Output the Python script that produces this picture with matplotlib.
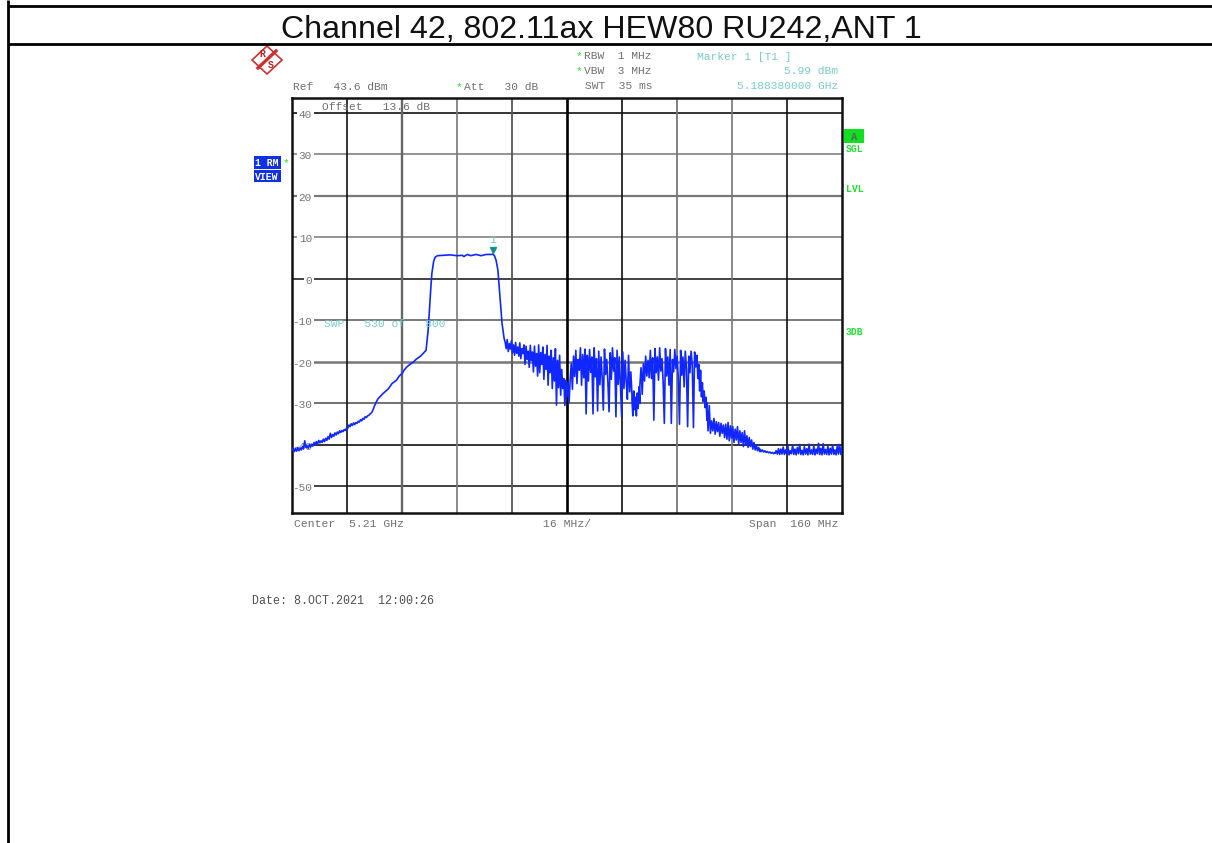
import numpy as np
import matplotlib
matplotlib.use("Agg")
import matplotlib.pyplot as plt
from matplotlib.patches import Polygon, Rectangle

W, H = 1212, 843

# ---------------------------------------------------------
# Trace (MHz, dBm)
# ---------------------------------------------------------
left_range = (5130.0, 5155.0)
left_levels = [
    -41.3, -40.7, -41.6, -40.9, -41.5, -40.6, -41.4, -40.8, -41.2, -40.4, -40.9, -39.0, -40.6, -40.2,
    -40.8, -39.9, -40.5, -39.8, -40.3, -39.4, -40.0, -39.2, -39.8, -38.9, -39.5, -39.0, -39.4, -38.6,
    -39.2, -38.4, -38.9, -38.0, -38.6, -37.2, -38.2, -37.5, -37.9, -37.1, -37.6, -36.9, -37.3, -36.6,
    -37.0, -36.5, -36.8, -36.3, -36.5, -35.9, -36.0, -35.2, -35.6, -34.9, -35.3, -34.7, -35.1, -34.6,
    -34.8, -34.3, -34.5, -33.9, -34.2, -33.6, -33.8, -33.2, -33.4, -33.0, -32.9, -32.6, -32.4, -32.0,
    -31.4, -30.6, -30.0, -29.4, -28.9,
]

skirt_freq = [
    5156.5, 5158.0, 5159.1, 5160.4, 5161.2, 5162.0, 5162.6, 5163.4, 5164.3, 5165.2, 5166.2, 5167.4,
    5169.0, 5169.6, 5170.1, 5170.4, 5170.7, 5171.2, 5171.6, 5172.3, 5174.0, 5176.0, 5178.0, 5179.5,
    5180.0, 5181.0, 5182.0, 5183.5, 5185.0, 5186.5, 5188.0, 5188.4, 5188.9, 5189.4, 5189.9, 5190.5,
    5191.1, 5191.7,
]
skirt_levels = [
    -27.6, -26.5, -25.2, -24.4, -23.4, -22.8, -22.0, -21.2, -20.6, -20.1, -19.3, -18.6,
    -17.2, -12.4, -5.9, -2.0, 1.4, 4.2, 5.2, 5.6, 5.7, 5.8, 5.6, 5.7,
    5.4, 5.9, 5.6, 5.9, 5.6, 5.9, 5.9, 5.99, 5.6, 4.4, 2.1, -4.4,
    -10.7, -14.3,
]

noisy_range = (5192.0, 5210.9)
noisy_levels = [
    -15.2, -16.8, -14.6, -17.5, -15.6, -16.9, -14.9, -17.8, -15.9, -18.4, -15.3, -17.9, -16.4, -18.6,
    -15.4, -19.2, -16.8, -18.0, -15.9, -20.6, -16.2, -19.4, -17.4, -21.3, -16.0, -19.6, -17.6, -22.4,
    -16.2, -21.0, -18.0, -23.4, -15.9, -22.6, -17.8, -20.6, -16.4, -24.2, -18.2, -21.8, -16.0, -25.6,
    -18.6, -22.6, -17.2, -26.4, -19.0, -24.6, -16.8, -30.4, -19.6, -26.2, -18.4, -28.0, -21.8, -26.4,
    -24.0, -30.5, -24.4, -28.4, -25.0, -29.8, -24.8,
]

burst1_range = (5210.9, 5228.9)
burst1_levels = [
    -24.6, -20.4, -26.6, -18.6, -23.5, -17.2, -25.2, -19.4, -22.0, -16.6, -25.6, -18.2, -23.8, -16.9,
    -32.5, -18.4, -24.6, -17.0, -22.5, -18.8, -32.5, -16.6, -23.6, -19.2, -31.8, -17.4, -25.5, -18.8,
    -23.8, -31.6, -16.9, -23.0, -19.4, -25.0, -32.0, -17.8, -24.2, -16.6, -22.2, -19.0, -33.2, -17.2,
    -25.4, -18.8, -25.8, -33.2, -17.6, -26.4, -19.6, -24.8, -29.0, -18.4, -27.2, -22.4, -28.0,
]

gap_range = (5228.9, 5231.2)
gap_levels = [-29.0, -33.0, -27.0, -31.5, -28.5, -33.0, -27.5, -31.2, -26.0, -30.0]

burst2_range = (5231.2, 5247.8)
burst2_levels = [
    -25.6, -21.4, -27.8, -20.4, -24.6, -18.6, -23.4, -19.6, -23.8, -17.2, -24.0, -19.0, -34.0, -16.8,
    -22.6, -18.8, -24.4, -16.6, -22.2, -19.2, -25.0, -34.8, -16.8, -23.4, -18.8, -25.6, -17.0, -34.8,
    -19.4, -22.4, -17.0, -21.6, -18.6, -24.0, -35.0, -17.2, -23.2, -18.8, -26.0, -17.4, -21.6, -35.6,
    -18.6, -22.6, -17.4, -20.8, -35.8, -17.6, -21.2, -18.4,
]

fall_range = (5247.8, 5250.7)
fall_levels = [-18.6, -24.0, -20.6, -27.0, -22.0, -28.4, -25.0, -29.6, -27.0, -31.0, -28.5, -34.0]

tail_range = (5250.7, 5266.1)
tail_levels = [
    -29.8, -36.6, -30.5, -37.2, -34.2, -36.6, -33.6, -37.4, -34.4, -36.8, -34.6, -37.9, -34.8, -37.2,
    -35.2, -38.2, -35.0, -38.6, -34.6, -39.0, -35.4, -38.4, -35.6, -39.4, -36.2, -38.8, -35.6, -39.8,
    -36.6, -39.4, -37.0, -40.4, -36.6, -40.0, -37.8, -40.6, -38.2, -40.4, -38.8, -41.0, -39.4, -41.2,
    -40.0, -41.4, -40.6, -41.6,
]

floor_range = (5266.1, 5270.5)
floor_levels = [
    -41.0, -41.6, -41.2, -41.7, -41.4, -41.8, -41.6, -41.9, -41.7, -42.0, -41.8, -42.1, -41.9,
]

noise_range = (5270.5, 5290.0)
noise_levels = [
    -42.0, -41.4, -42.2, -40.9, -42.3, -41.0, -42.2, -40.5, -42.3, -41.2, -42.2, -40.2, -42.4, -41.4,
    -42.1, -40.0, -42.3, -41.0, -42.4, -40.6, -42.1, -39.9, -42.3, -41.3, -42.4, -40.4, -42.2, -40.9,
    -42.4, -39.8, -42.2, -41.2, -42.3, -40.2, -42.4, -41.0, -42.1, -39.6, -42.3, -40.8, -42.4, -39.7,
    -42.2, -41.1, -42.3, -40.3, -42.4, -40.8, -42.2, -40.0, -42.3, -41.2, -42.4, -40.2, -42.2, -39.9,
    -42.3, -40.9,
]

marker_freq = 5188.38
marker_level = 5.99

y_ticks = [40, 30, 20, 10, 0, -10, -20, -30, -40, -50]
y_colors = ["#111111", "#777777", "#777777", "#777777", "#222222", "#555555", "#777777", "#666666", "#111111", "#222222"]
y_widths = [1.2, 1.1, 1.6, 1.1, 1.2, 1.1, 1.8, 1.3, 1.2, 1.2]
x_ticks = [5146, 5162, 5178, 5194, 5210, 5226, 5242, 5258, 5274]
x_colors = ["#111111", "#666666", "#777777", "#555555", "#000000", "#111111", "#777777", "#777777", "#111111"]
x_widths = [1.2, 1.7, 1.2, 1.3, 1.9, 1.2, 1.3, 1.2, 1.2]

freq = np.concatenate([
    np.linspace(*left_range, len(left_levels)),
    skirt_freq,
    np.linspace(*noisy_range, len(noisy_levels)),
    np.linspace(*burst1_range, len(burst1_levels)),
    np.linspace(*gap_range, len(gap_levels)),
    np.linspace(*burst2_range, len(burst2_levels)),
    np.linspace(*fall_range, len(fall_levels)),
    np.linspace(*tail_range, len(tail_levels)),
    np.linspace(*floor_range, len(floor_levels)),
    np.linspace(*noise_range, len(noise_levels)),
])
level = np.concatenate([
    left_levels, skirt_levels, noisy_levels, burst1_levels, gap_levels,
    burst2_levels, fall_levels, tail_levels, floor_levels, noise_levels,
])

plt.rcParams["font.family"] = ["Liberation Mono", "DejaVu Sans"]
fig = plt.figure(figsize=(W / 100, H / 100), dpi=100)

# ---------------------------------------------------------
# Spectrum
# ---------------------------------------------------------
ax = fig.add_axes([292 / W, 1 - 513 / H, 550 / W, 415 / H])
ax.set_xlim(5130, 5290)
ax.set_ylim(-56.4, 43.6)
ax.set_xticks([])
ax.set_yticks([])
for s in ax.spines.values():
    s.set_linewidth(1.8)
    s.set_color("#111111")

for t, c, lw in zip(y_ticks, y_colors, y_widths):
    ax.axhline(t, color=c, lw=lw, zorder=1)
    ax.text(5135.8, t - 0.4, str(t), ha="right", va="center", fontsize=8, color="#777777", zorder=2,
            bbox=dict(facecolor="white", edgecolor="none", pad=1.2))
for t, c, lw in zip(x_ticks, x_colors, x_widths):
    ax.axvline(t, color=c, lw=lw, zorder=1)

ax.plot(freq, level, color="#1028ff", lw=1.2, zorder=3)
ax.plot(marker_freq, marker_level + 1.0, marker="v", color="#109090", ms=5, zorder=4)
ax.text(marker_freq, marker_level + 3.4, "1", ha="center", va="center", fontsize=8.2, color="#70c8c8", zorder=4)

# ---------------------------------------------------------
# Everything around it, in pixel coordinates
# ---------------------------------------------------------
over = fig.add_axes([0, 0, 1, 1], zorder=5)
over.set_xlim(0, W)
over.set_ylim(H, 0)
over.axis("off")
over.patch.set_alpha(0)

over.plot([8, 8], [0, H], color="black", lw=2, solid_capstyle="butt")
over.plot([8, W], [6, 6], color="black", lw=2, solid_capstyle="butt")
over.plot([8, W], [44, 44], color="black", lw=2, solid_capstyle="butt")
over.text(601, 29.5, "Channel 42, 802.11ax HEW80 RU242,ANT 1", ha="center", va="center",
          fontsize=23.1, family="Liberation Sans", color="#111111")

# R&S logo
over.add_patch(Polygon([(267, 46), (282, 60), (267, 74), (252, 60)], closed=True,
                       facecolor="white", edgecolor="#d03030", lw=1.2))
over.plot([258, 276], [68, 51], color="#d03030", lw=2.4)
over.text(262.5, 54, "R", fontsize=7, color="#c02020", ha="center", va="center", weight="bold")
over.text(270.5, 65, "S", fontsize=7, color="#c02020", ha="center", va="center", weight="bold")

GREY = "#707070"
CYAN = "#78cccc"
GREEN = "#20e030"
FS = 8.1


def label(x, y, s, color=GREY, ha="left", **kw):
    over.text(x, y, s, color=color, ha=ha, va="center", fontsize=kw.pop("fontsize", FS), **kw)


label(293, 87, "Ref   43.6 dBm")
label(456, 87, "*", color=GREEN)
label(464, 87, "Att   30 dB")
label(576, 56, "*", color=GREEN)
label(584, 56, "RBW  1 MHz")
label(576, 71, "*", color=GREEN)
label(584, 71, "VBW  3 MHz")
label(585, 86, "SWT  35 ms")
label(697, 57, "Marker 1 [T1 ]", color=CYAN)
label(838, 71, "5.99 dBm", color=CYAN, ha="right")
label(838, 86, "5.188380000 GHz", color=CYAN, ha="right")
label(322, 107, "Offset   13.6 dB")
label(324, 324, "SWP   530 of   800", color=CYAN)

over.add_patch(Rectangle((844, 129), 20, 14, facecolor="#10e020", edgecolor="none"))
label(854, 136.5, "A", color="#606060", ha="center", fontsize=7.5, weight="bold")
label(846, 149.5, "SGL", color=GREEN, fontsize=7, weight="bold")
label(846, 188.5, "LVL", color=GREEN, fontsize=7, weight="bold")
label(846, 332, "3DB", color=GREEN, fontsize=7, weight="bold")

over.add_patch(Rectangle((254, 156), 27, 13, facecolor="#1030e8", edgecolor="none"))
over.add_patch(Rectangle((254, 170), 27, 12, facecolor="#1030e8", edgecolor="none"))
label(255, 163, "1 RM", color="white", fontsize=7, weight="bold")
label(255, 176.5, "VIEW", color="white", fontsize=7, weight="bold")
label(283, 163, "*", color=GREEN)

label(294, 524, "Center  5.21 GHz", fontsize=8.2)
label(543, 524, "16 MHz/", fontsize=8.2)
label(838, 524, "Span  160 MHz", ha="right", fontsize=8.2)
label(252, 601, "Date: 8.OCT.2021  12:00:26", color="#505050", fontsize=8.4)

fig.savefig("out.png", dpi=100)
